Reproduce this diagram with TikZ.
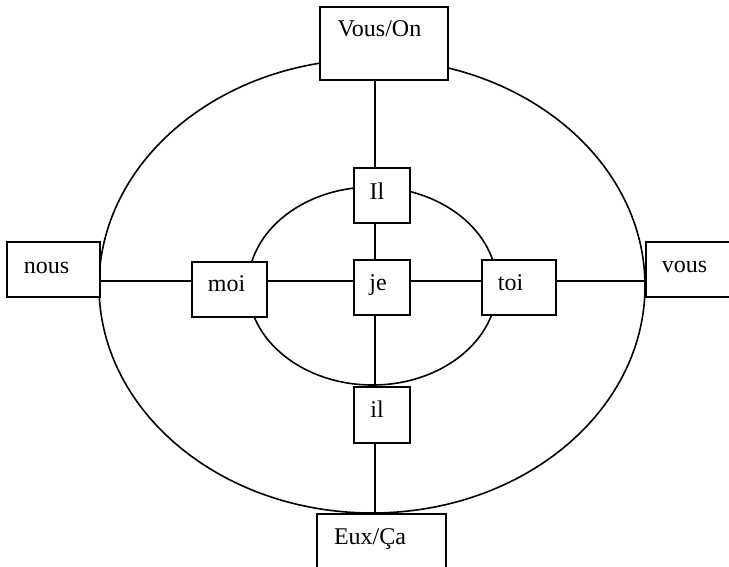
\documentclass[tikz,border=0pt]{standalone}
\usepackage{fontspec}
\setmainfont{Liberation Serif}
\begin{document}
\begin{tikzpicture}[x=1pt,y=-1pt,
  ring/.style={line width=1.6pt},
  pbox/.style={draw, line width=1.7pt, fill=white, rectangle, inner sep=0pt},
  conn/.style={line width=1.7pt},
  lbl/.style={font=\fontsize{24}{28}\selectfont, inner sep=0pt, anchor=base}]
\useasboundingbox (0,0) rectangle (729,566);
\clip (0,0) rectangle (729,566);
% ellipses
\draw[ring] (372,286) ellipse [x radius=273pt, y radius=227pt];
\draw[ring] (372.5,286) ellipse [x radius=124.5pt, y radius=99pt];
% boxes
\node[pbox, minimum width=128pt, minimum height=73pt] (vouson) at (384,43.5) {};
\node[pbox, minimum width=56pt, minimum height=55pt] (Ibig) at (382,195.5) {};
\node[pbox, minimum width=56pt, minimum height=55pt] (je) at (382,287.5) {};
\node[pbox, minimum width=56pt, minimum height=56pt] (il) at (382,415) {};
\node[pbox, minimum width=75pt, minimum height=55pt] (moi) at (229.5,289.5) {};
\node[pbox, minimum width=74pt, minimum height=55pt] (toi) at (519,287.5) {};
\node[pbox, minimum width=93pt, minimum height=55pt] (nous) at (53.5,269.5) {};
\node[pbox, minimum width=94pt, minimum height=55pt] (vous) at (693,269.5) {};
\node[pbox, minimum width=129pt, minimum height=61pt] (euxca) at (381.5,544.5) {};
% axis crossing point
\coordinate (axis) at (375,281);
% connectors
\draw[conn] (vouson.south -| axis) -- (Ibig.north -| axis);
\draw[conn] (Ibig.south -| axis) -- (je.north -| axis);
\draw[conn] (je.south -| axis) -- (il.north -| axis);
\draw[conn] (il.south -| axis) -- (euxca.north -| axis);
\draw[conn] (nous.east |- axis) -- (moi.west |- axis);
\draw[conn] (moi.east |- axis) -- (je.west |- axis);
\draw[conn] (je.east |- axis) -- (toi.west |- axis);
\draw[conn] (toi.east |- axis) -- (vous.west |- axis);
% labels
\node[lbl] (tvouson) at (379.5,36) {Vous/On};
\node[lbl] (tIbig) at (377,199) {Il};
\node[lbl] (tje) at (378,290) {je};
\node[lbl] (til) at (377,417) {il};
\node[lbl] (tmoi) at (226.5,291) {moi};
\node[lbl] (ttoi) at (510.5,290) {toi};
\node[lbl] (tnous) at (46.5,273) {nous};
\node[lbl] (tvous) at (684.5,272) {vous};
\node[lbl] (teuxca) at (370,544) {Eux/Ça};
\end{tikzpicture}
\end{document}
